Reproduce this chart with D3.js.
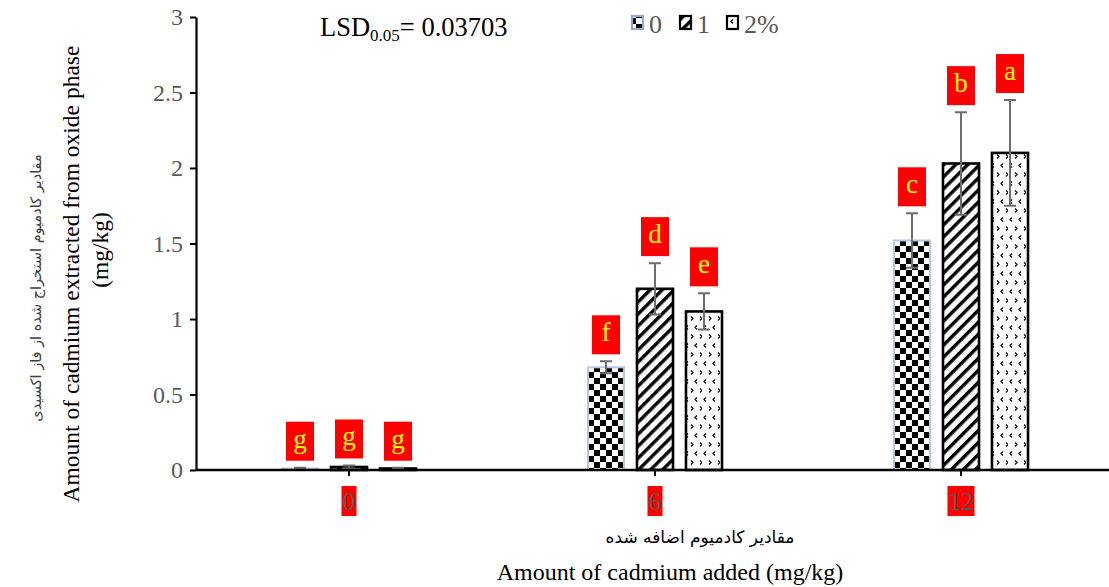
<!DOCTYPE html>
<html>
<head>
<meta charset="utf-8">
<script src="https://cdn.jsdelivr.net/npm/d3@7"></script>
<style>
  body { margin: 0; background: #fff; }
  svg { display: block; }
  .serif, .tk text { font-family: 'Liberation Serif', 'Times New Roman', serif; }
  .tk text { font-size: 24px; fill: #595959; }
  .fa { font-family: 'DejaVu Sans', sans-serif; }
</style>
</head>
<body>
<div id="chart"></div>
<script>
// data
const categories = ['0', '6', '12'];
const seriesNames = ['0', '1', '2%'];
const values0 = [0.01, 0.68, 1.52];
const values1 = [0.02, 1.20, 2.03];
const values2 = [0.01, 1.05, 2.10];
const errors0 = [0.005, 0.04, 0.18];
const errors1 = [0.01, 0.17, 0.34];
const errors2 = [0.005, 0.12, 0.35];
const letters0 = ['g', 'f', 'c'];
const letters1 = ['g', 'd', 'b'];
const letters2 = ['g', 'e', 'a'];
const yTicks = [0, 0.5, 1, 1.5, 2, 2.5, 3];

const width = 1109, height = 587;
const margin = { left: 196, right: -5, top: 17, bottom: 117 };

const svg = d3.select('#chart').append('svg')
  .attr('width', width)
  .attr('height', height);

// patterns
const defs = svg.append('defs');

const checker = defs.append('pattern')
  .attr('id', 'pat0')
  .attr('patternUnits', 'userSpaceOnUse')
  .attr('width', 12).attr('height', 12);
checker.append('rect').attr('width', 12).attr('height', 12).attr('fill', '#fff');
checker.append('rect').attr('width', 6).attr('height', 6).attr('fill', '#000');
checker.append('rect').attr('x', 6).attr('y', 6).attr('width', 6).attr('height', 6).attr('fill', '#000');

const stripes = defs.append('pattern')
  .attr('id', 'pat1')
  .attr('patternUnits', 'userSpaceOnUse')
  .attr('width', 8.5).attr('height', 8.5)
  .attr('patternTransform', 'rotate(45)');
stripes.append('rect').attr('width', 8.5).attr('height', 8.5).attr('fill', '#fff');
stripes.append('rect').attr('width', 3.4).attr('height', 8.5).attr('fill', '#000');

const dots = defs.append('pattern')
  .attr('id', 'pat2')
  .attr('patternUnits', 'userSpaceOnUse')
  .attr('width', 18).attr('height', 18);
dots.append('rect').attr('width', 18).attr('height', 18).attr('fill', '#fff');
dots.append('path')
  .attr('d', 'M4,1.5 L2,3.5 L4,5.5 M13,1.5 L11,3.5 L13,5.5 M7,10.5 L9,12.5 L7,14.5 M16,10.5 L18,12.5 L16,14.5')
  .attr('fill', 'none').attr('stroke', '#000').attr('stroke-width', 1.2);

const fills = ['url(#pat0)', 'url(#pat1)', 'url(#pat2)'];
const outlines = ['#b4c7e7', '#000', '#000'];

// scales
const x = d3.scaleBand()
  .domain(categories)
  .range([margin.left, width - margin.right])
  .padding(0);

const xInner = d3.scaleBand()
  .domain(seriesNames)
  .range([-73.5, 73.5])
  .paddingInner(0.265)
  .paddingOuter(0.1325);

const y = d3.scaleLinear()
  .domain([0, 3])
  .range([height - margin.bottom, margin.top]);

// y axis
const yAxis = svg.append('g')
  .attr('class', 'tk')
  .attr('transform', 'translate(' + margin.left + ',0)')
  .call(d3.axisLeft(y).tickValues(yTicks).tickSize(6).tickSizeOuter(0).tickPadding(7)
    .tickFormat(d => d));
yAxis.select('.domain').attr('stroke', '#000').attr('stroke-width', 2.2);
yAxis.selectAll('.tick line').attr('stroke', '#000').attr('stroke-width', 2);

// bars
const seriesData = [
  { v: values0, e: errors0, l: letters0 },
  { v: values1, e: errors1, l: letters1 },
  { v: values2, e: errors2, l: letters2 }
];

seriesData.forEach((s, i) => {
  const g = svg.append('g');
  const rows = categories.map((c, j) => ({ c: c, v: s.v[j], e: s.e[j], l: s.l[j] }));

  g.selectAll('rect.bar')
    .data(rows)
    .enter()
    .append('rect')
    .attr('class', 'bar')
    .attr('x', d => x(d.c) + x.bandwidth() / 2 + xInner(seriesNames[i]))
    .attr('y', d => y(d.v))
    .attr('width', xInner.bandwidth())
    .attr('height', d => y(0) - y(d.v))
    .attr('fill', fills[i])
    .attr('stroke', outlines[i])
    .attr('stroke-width', i === 0 ? 2 : 2.6);

  const cx = d => x(d.c) + x.bandwidth() / 2 + xInner(seriesNames[i]) + xInner.bandwidth() / 2;

  // error bars
  g.selectAll('path.err')
    .data(rows)
    .enter()
    .append('path')
    .attr('class', 'err')
    .attr('d', d => {
      const t = y(d.v + d.e), b = y(d.v - d.e), c = cx(d);
      return 'M' + (c - 6) + ',' + t + 'H' + (c + 6) + 'M' + c + ',' + t + 'V' + b + 'M' + (c - 6) + ',' + b + 'H' + (c + 6);
    })
    .attr('fill', 'none')
    .attr('stroke', '#6d6d6d')
    .attr('stroke-width', 2);

  // letter boxes
  g.selectAll('rect.lbl')
    .data(rows)
    .enter()
    .append('rect')
    .attr('class', 'lbl')
    .attr('x', d => cx(d) - 14)
    .attr('y', d => y(d.v + d.e) - 46)
    .attr('width', 28)
    .attr('height', 39)
    .attr('fill', '#ff0000');

  g.selectAll('text.lbl')
    .data(rows)
    .enter()
    .append('text')
    .attr('class', 'lbl serif')
    .attr('x', d => cx(d))
    .attr('y', d => y(d.v + d.e) - 20)
    .attr('text-anchor', 'middle')
    .attr('font-size', 27)
    .attr('fill', '#ffff00')
    .text(d => d.l);
});

// x axis
const xAxis = svg.append('g')
  .attr('transform', 'translate(0,' + y(0) + ')');
xAxis.append('line')
  .attr('x1', margin.left).attr('x2', width)
  .attr('stroke', '#000').attr('stroke-width', 2.4);
xAxis.selectAll('line.tick')
  .data(categories)
  .enter()
  .append('line')
  .attr('class', 'tick')
  .attr('x1', d => x(d) + x.bandwidth() / 2)
  .attr('x2', d => x(d) + x.bandwidth() / 2)
  .attr('y1', 0).attr('y2', 6)
  .attr('stroke', '#000').attr('stroke-width', 2);

const catLabels = xAxis.selectAll('g.cat')
  .data(categories)
  .enter()
  .append('g')
  .attr('class', 'cat')
  .attr('transform', d => 'translate(' + (x(d) + x.bandwidth() / 2) + ',0)');
catLabels.append('rect')
  .attr('x', d => -(d.length * 12 + 3) / 2)
  .attr('y', 16)
  .attr('width', d => d.length * 12 + 3)
  .attr('height', 30)
  .attr('fill', '#ff0000');
catLabels.append('text')
  .attr('class', 'serif')
  .attr('y', 40)
  .attr('text-anchor', 'middle')
  .attr('font-size', 25)
  .attr('fill', '#595959')
  .text(d => d);

// axis titles
svg.append('text')
  .attr('class', 'fa')
  .attr('x', 700).attr('y', 543)
  .attr('text-anchor', 'middle')
  .attr('font-size', 17)
  .attr('fill', '#000')
  .text('مقادیر کادمیوم اضافه شده');

svg.append('text')
  .attr('class', 'serif')
  .attr('x', 670).attr('y', 580)
  .attr('text-anchor', 'middle')
  .attr('font-size', 24)
  .attr('fill', '#000')
  .text('Amount of cadmium added (mg/kg)');

svg.append('text')
  .attr('class', 'fa')
  .attr('transform', 'translate(41,288) rotate(-90)')
  .attr('text-anchor', 'middle')
  .attr('font-size', 14.5)
  .attr('fill', '#404040')
  .text('مقادیر کادمیوم استخراج شده از فاز اکسیدی');

svg.append('text')
  .attr('class', 'serif')
  .attr('transform', 'translate(79,274) rotate(-90)')
  .attr('text-anchor', 'middle')
  .attr('font-size', 23.5)
  .attr('fill', '#000')
  .text('Amount of cadmium extracted from oxide phase');

svg.append('text')
  .attr('class', 'serif')
  .attr('transform', 'translate(108,250) rotate(-90)')
  .attr('text-anchor', 'middle')
  .attr('font-size', 23.5)
  .attr('fill', '#000')
  .text('(mg/kg)');

// LSD note
const lsd = svg.append('text')
  .attr('class', 'serif')
  .attr('x', 320).attr('y', 36)
  .attr('font-size', 26.5)
  .attr('fill', '#000');
lsd.append('tspan').text('LSD');
lsd.append('tspan').attr('font-size', 17).attr('dy', 5).text('0.05');
lsd.append('tspan').attr('dy', -5).text('= 0.03703');

// legend
const legendX = [632, 680, 727];
const legend = svg.append('g');
seriesNames.forEach((n, i) => {
  legend.append('rect')
    .attr('x', legendX[i]).attr('y', 16)
    .attr('width', 11).attr('height', 13)
    .attr('fill', fills[i])
    .attr('stroke', outlines[i] === '#000' ? '#000' : '#8fa8d0')
    .attr('stroke-width', 2.2);
  legend.append('text')
    .attr('class', 'serif')
    .attr('x', legendX[i] + 17).attr('y', 33)
    .attr('font-size', 26)
    .attr('fill', '#595959')
    .text(n);
});
</script>
</body>
</html>
